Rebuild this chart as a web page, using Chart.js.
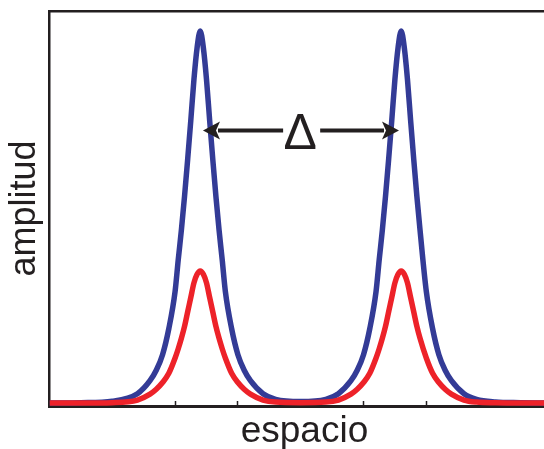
<!DOCTYPE html>
<html>
<head>
<meta charset="utf-8">
<script src="https://cdn.jsdelivr.net/npm/chart.js@4"></script>
<style>
  html, body { margin: 0; padding: 0; background: #fff; }
  #wrap { width: 544px; height: 449px; }
</style>
</head>
<body>
<div id="wrap"><canvas id="peaksChart" width="544" height="449"></canvas></div>
<script>
// positions along "espacio" (axis units, one tick = 1)
const xs = [0, 0.5, 1.0, 1.4, 1.6, 1.7, 1.8, 1.9, 2.0, 2.05, 2.1, 2.15, 2.2, 2.25, 2.3, 2.35, 2.4,
            2.45, 2.5, 2.55, 2.6, 2.65, 2.7, 2.75, 2.8, 2.9, 3.0, 3.1, 3.2, 3.4, 3.6, 4.0,
            4.4, 4.6, 4.8, 4.9, 5.0, 5.1, 5.2, 5.25, 5.3, 5.35, 5.4, 5.45, 5.5, 5.55, 5.6,
            5.65, 5.7, 5.75, 5.8, 5.85, 5.9, 6.0, 6.1, 6.2, 6.3, 6.4, 6.6, 6.8, 7.1, 7.5, 7.9];

// tall blue profile
const blueAmp = [0, 0.001, 0.005, 0.025, 0.06, 0.088, 0.13, 0.20, 0.30, 0.385, 0.465, 0.555, 0.655, 0.76, 0.87, 0.955, 1.0,
                 0.955, 0.87, 0.76, 0.655, 0.555, 0.465, 0.385, 0.30, 0.20, 0.13, 0.088, 0.06, 0.025, 0.01, 0.004,
                 0.01, 0.025, 0.06, 0.088, 0.13, 0.20, 0.30, 0.385, 0.465, 0.555, 0.655, 0.76, 0.87, 0.955, 1.0,
                 0.955, 0.87, 0.76, 0.655, 0.555, 0.465, 0.30, 0.20, 0.13, 0.088, 0.06, 0.025, 0.01, 0.003, 0.001, 0];

// short red profile
const redAmp = [0, 0, 0.001, 0.008, 0.024, 0.037, 0.055, 0.080, 0.121, 0.146, 0.174, 0.206, 0.245, 0.284, 0.323, 0.346, 0.355,
                0.346, 0.323, 0.284, 0.245, 0.206, 0.174, 0.146, 0.121, 0.080, 0.055, 0.037, 0.024, 0.008, 0.0025, 0.001,
                0.0025, 0.008, 0.024, 0.037, 0.055, 0.080, 0.121, 0.146, 0.174, 0.206, 0.245, 0.284, 0.323, 0.346, 0.355,
                0.346, 0.323, 0.284, 0.245, 0.206, 0.174, 0.121, 0.080, 0.055, 0.037, 0.024, 0.008, 0.0025, 0.0007, 0, 0];

const xTickStep = 1;
const xLabel = 'espacio';
const yLabel = 'amplitud';
const deltaLabel = '\u0394';

// Delta arrow, in data units
const deltaFrom = 2.444, deltaTo = 5.565;
const deltaGapLeft = 3.72, deltaGapRight = 4.31, deltaMid = 3.99, deltaLevel = 0.7325;
// x label centre, in data units
const xLabelAt = 4.06;

const ink = '#231f20';
const fontFamily = '"Liberation Sans", Arial, sans-serif';

const deltaPlugin = {
    id: 'deltaArrow',
    afterDatasetsDraw(chart) {
        const ctx = chart.ctx;
        const sx = chart.scales.x, sy = chart.scales.y;
        const y = sy.getPixelForValue(deltaLevel);
        const xl = sx.getPixelForValue(deltaFrom);
        const xr = sx.getPixelForValue(deltaTo);
        const gl = sx.getPixelForValue(deltaGapLeft);
        const gr = sx.getPixelForValue(deltaGapRight);
        const head = 17, half = 9;
        ctx.save();
        ctx.strokeStyle = ink;
        ctx.fillStyle = ink;
        ctx.lineWidth = 4;
        ctx.beginPath();
        ctx.moveTo(xl + head - 2, y); ctx.lineTo(gl, y);
        ctx.moveTo(gr, y); ctx.lineTo(xr - head + 2, y);
        ctx.stroke();
        ctx.beginPath();
        ctx.moveTo(xl, y); ctx.lineTo(xl + head, y - half); ctx.lineTo(xl + head - 4, y); ctx.lineTo(xl + head, y + half);
        ctx.closePath(); ctx.fill();
        ctx.beginPath();
        ctx.moveTo(xr, y); ctx.lineTo(xr - head, y - half); ctx.lineTo(xr - head + 4, y); ctx.lineTo(xr - head, y + half);
        ctx.closePath(); ctx.fill();
        ctx.font = '50px ' + fontFamily;
        ctx.textAlign = 'center';
        ctx.textBaseline = 'alphabetic';
        ctx.fillText(deltaLabel, sx.getPixelForValue(deltaMid), y + 18);
        ctx.restore();
    },
    afterDraw(chart) {
        // axis label under the x axis
        const ctx = chart.ctx;
        const sx = chart.scales.x;
        ctx.save();
        ctx.fillStyle = ink;
        ctx.font = '37px ' + fontFamily;
        ctx.textAlign = 'center';
        ctx.textBaseline = 'alphabetic';
        ctx.fillText(xLabel, sx.getPixelForValue(xLabelAt), chart.chartArea.bottom + 36);
        ctx.restore();
    }
};

const ctx = document.getElementById('peaksChart').getContext('2d');
new Chart(ctx, {
    type: 'line',
    data: {
        datasets: [{
            label: 'red',
            data: xs.map((x, i) => ({ x: x, y: redAmp[i] })),
            borderColor: '#ed2229',
            borderWidth: 5.5,
            pointRadius: 0,
            cubicInterpolationMode: 'monotone',
            fill: false
        }, {
            label: 'blue',
            data: xs.map((x, i) => ({ x: x, y: blueAmp[i] })),
            borderColor: '#333b96',
            borderWidth: 5.5,
            pointRadius: 0,
            cubicInterpolationMode: 'monotone',
            fill: false
        }]
    },
    options: {
        responsive: false,
        animation: false,
        events: [],
        layout: { autoPadding: false, padding: { top: 11, right: 0, bottom: 43, left: 0 } },
        plugins: {
            legend: { display: false },
            tooltip: { enabled: false }
        },
        scales: {
            x: {
                type: 'linear',
                position: 'bottom',
                min: 0,
                max: 7.874,
                ticks: { display: false, stepSize: xTickStep, includeBounds: false },
                grid: {
                    display: true,
                    drawOnChartArea: false,
                    drawTicks: true,
                    tickLength: -5,
                    tickWidth: 1.5,
                    tickColor: ink
                },
                border: { display: true, color: ink, width: 3 },
                title: { display: false }
            },
            xTop: {
                type: 'linear',
                position: 'top',
                min: 0,
                max: 7.874,
                ticks: { display: false },
                grid: { display: false, drawTicks: false },
                border: { display: true, color: ink, width: 2.5 }
            },
            y: {
                type: 'linear',
                min: -0.008,
                max: 1.054,
                ticks: { display: false },
                grid: { display: false, drawTicks: false },
                border: { display: true, color: ink, width: 2.5 },
                title: {
                    display: true,
                    text: yLabel,
                    color: ink,
                    font: { family: fontFamily, size: 36, lineHeight: 1.0 },
                    padding: { top: 7, bottom: 6.5 }
                }
            }
        }
    },
    plugins: [deltaPlugin]
});
</script>
</body>
</html>
